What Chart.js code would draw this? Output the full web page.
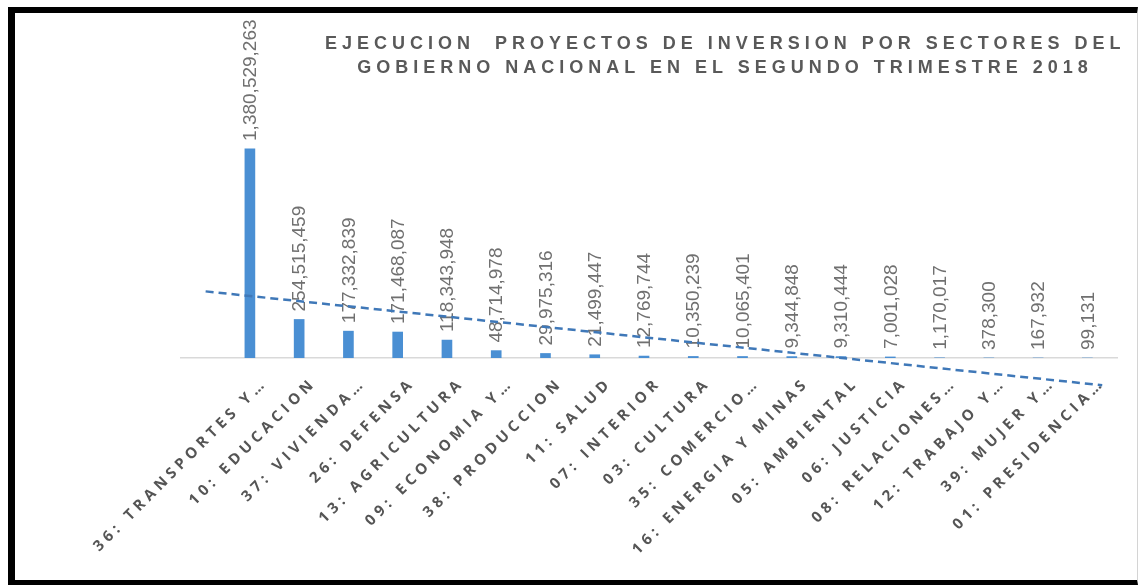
<!DOCTYPE html>
<html>
<head>
<meta charset="utf-8">
<script src="https://cdn.jsdelivr.net/npm/chart.js@4.4.1/dist/chart.umd.min.js"></script>
<style>
  html, body { margin: 0; padding: 0; background: #fff; }
  #wrap { position: absolute; left: 0; top: 0; width: 1140px; height: 585px; }
  #frame { position: absolute; left: 8px; top: 7px; width: 1130px; height: 578px; box-sizing: border-box;
           border-top: 6px solid #000; border-left: 7px solid #000; border-bottom: 5px solid #000;
           border-right: 1px solid #d4d4d4; pointer-events: none; }
  #title { position: absolute; left: 325px; width: 800px; top: 31px; text-align: center;
           font: bold 18px 'Liberation Sans', Arial, sans-serif;
           letter-spacing: 5px; line-height: 24px; color: #595959; white-space: pre; }
</style>
</head>
<body>
<div id="wrap"><canvas id="c" width="1140" height="585"></canvas></div>
<div id="frame"></div>
<div id="title">EJECUCION  PROYECTOS DE INVERSION POR SECTORES DEL
GOBIERNO NACIONAL EN EL SEGUNDO TRIMESTRE 2018</div>
<script>
// sectores (orden del gráfico)
const CATEGORIES = ['36: TRANSPORTES Y…', '10: EDUCACION', '37: VIVIENDA…', '26: DEFENSA', '13: AGRICULTURA',
  '09: ECONOMIA Y…', '38: PRODUCCION', '11: SALUD', '07: INTERIOR', '03: CULTURA', '35: COMERCIO…',
  '16: ENERGIA Y MINAS', '05: AMBIENTAL', '06: JUSTICIA', '08: RELACIONES…', '12: TRABAJO Y…',
  '39: MUJER Y…', '01: PRESIDENCIA…'];
const EJECUCION = [1380529263, 254515459, 177332839, 171468087, 118343948, 48714978, 29975316, 21499447,
  12769744, 10350239, 10065401, 9344848, 9310444, 7001028, 1170017, 378300, 167932, 99131];
// línea de tendencia (extremos, con 1 periodo de pronóstico hacia atrás)
const TREND_X = [0, 18.2];
const TREND_Y = [440e6, -180e6];

// eje de categorías con un hueco inicial para el pronóstico hacia atrás
const axisLabels = [''].concat(CATEGORIES);
const barData = [null].concat(EJECUCION);

const spacing = {
  id: 'spacing',
  beforeUpdate(chart) { chart.ctx.letterSpacing = '4.5px'; },
  beforeDraw(chart) { chart.ctx.letterSpacing = '4.5px'; }
};

// etiquetas de valor verticales encima de cada barra
const valueLabels = {
  id: 'valueLabels',
  afterDatasetDraw(chart, args) {
    if (args.meta.type !== 'bar') return;
    const ctx = chart.ctx;
    ctx.save();
    ctx.letterSpacing = '0px';
    ctx.font = '19px "Liberation Sans"';
    ctx.fillStyle = '#707070';
    ctx.textAlign = 'left';
    ctx.textBaseline = 'middle';
    args.meta.data.forEach((el, i) => {
      const v = barData[i];
      if (v == null) return;
      ctx.save();
      ctx.translate(el.x + 1, el.y - 8);
      ctx.rotate(-Math.PI / 2);
      ctx.fillText(v.toLocaleString('en-US'), 0, 0);
      ctx.restore();
    });
    ctx.restore();
  }
};

new Chart(document.getElementById('c'), {
  data: {
    labels: axisLabels,
    datasets: [
      {type: 'bar', data: barData, backgroundColor: '#4a8fd3', barThickness: 10, xAxisID: 'x', yAxisID: 'y', order: 1},
      {type: 'line', data: TREND_X.map((x, i) => ({x, y: TREND_Y[i]})), xAxisID: 'xt', yAxisID: 'y',
       borderColor: '#3f78b8', borderWidth: 2.5, borderDash: [8, 5], pointRadius: 0, clip: false, order: 0}
    ]
  },
  options: {
    responsive: false, animation: false,
    layout: {padding: {left: 181, right: 23, top: 40, bottom: 0}},
    plugins: {legend: {display: false}, tooltip: {enabled: false}, title: {display: false}},
    scales: {
      x: {
        type: 'category', offset: true,
        grid: {display: false, drawTicks: false},
        border: {display: true, color: '#d9d9d9', width: 1.5},
        ticks: {color: '#555555', autoSkip: false, maxRotation: 45, minRotation: 45, padding: 16, labelOffset: 10,
                font: {family: 'Open Sans', size: 15, weight: '700'}},
        afterFit(s) { s.height = 585 - 358; s.paddingLeft = 0; s.paddingRight = 0; }
      },
      xt: {type: 'linear', display: false, min: -0.5, max: 18.5},
      y: {display: false, min: 0, max: 2100e6}
    }
  },
  plugins: [spacing, valueLabels]
});
</script>
</body>
</html>
